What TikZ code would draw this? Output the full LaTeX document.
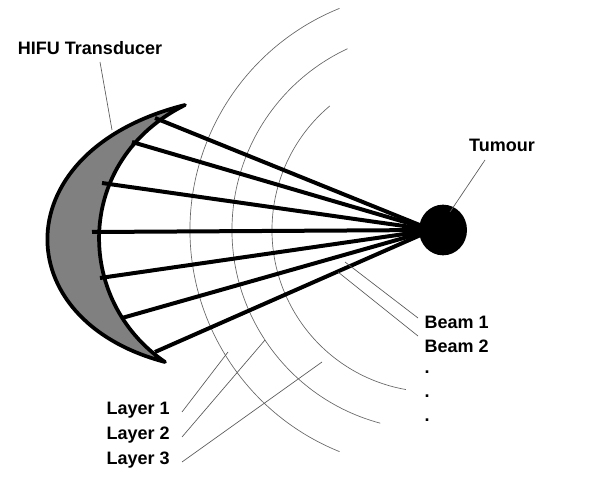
\documentclass[tikz,border=0pt]{standalone}
\usepackage{fontspec}
\usetikzlibrary{shapes.geometric}
\setmainfont{Liberation Sans}
\begin{document}
\begin{tikzpicture}[x=0.75pt,y=-0.75pt,
  lbl/.style={font=\bfseries\fontsize{13.5}{15}\selectfont,inner sep=1pt},
  beam/.style={line width=3pt},
  thin line/.style={draw=gray!80!black,line width=0.5pt},
  leader/.style={draw=gray!70!black,line width=0.5pt}]
\useasboundingbox (0,0) rectangle (613,484);
% layers
\draw[thin line] (429,230) ++(112:239) arc (112:248:239);
\draw[thin line] (432,230) ++(105:200) arc (105:245:200);
\draw[thin line] (434,230) ++(100:162) arc (100:230:162);
% transducer
\draw[line width=2.8pt,fill=gray,line join=round]
  (185,105) .. controls (5,150) and (5,320) .. (165,362)
  .. controls (74,300) and (74,160) .. (185,105) -- cycle;
% tumour
\node[ellipse,fill=black,minimum width=36pt,minimum height=38pt,inner sep=0] (t) at (443,230) {};
\coordinate (f) at (432,230);
\foreach \x/\y in {155/118,132/142,102/183,92/232,100/278,122/318,155/352}
  \draw[beam] (\x,\y) -- (f);
% labels
\node[lbl] (hifu) at (90,48) {HIFU Transducer};
\draw[leader] (100,62) -- (112,130);
\node[lbl] (tum) at (502,145) {Tumour};
\draw[leader] (485,160) -- (450,212);
\node[lbl,anchor=west] (b1) at (423,322) {Beam 1};
\node[lbl,anchor=west] (b2) at (423,346) {Beam 2};
\draw[leader] (418,318) -- (345,262);
\draw[leader] (418,336) -- (338,272);
\node[lbl] at (427,372) {.};
\node[lbl] at (427,396) {.};
\node[lbl] at (427,420) {.};
\node[lbl,anchor=west] (l1) at (105,410) {Layer 1};
\node[lbl,anchor=west] (l2) at (105,435) {Layer 2};
\node[lbl,anchor=west] (l3) at (105,460) {Layer 3};
\draw[leader] (182,412) -- (228,352);
\draw[leader] (182,437) -- (265,340);
\draw[leader] (182,462) -- (322,362);
\end{tikzpicture}
\end{document}
